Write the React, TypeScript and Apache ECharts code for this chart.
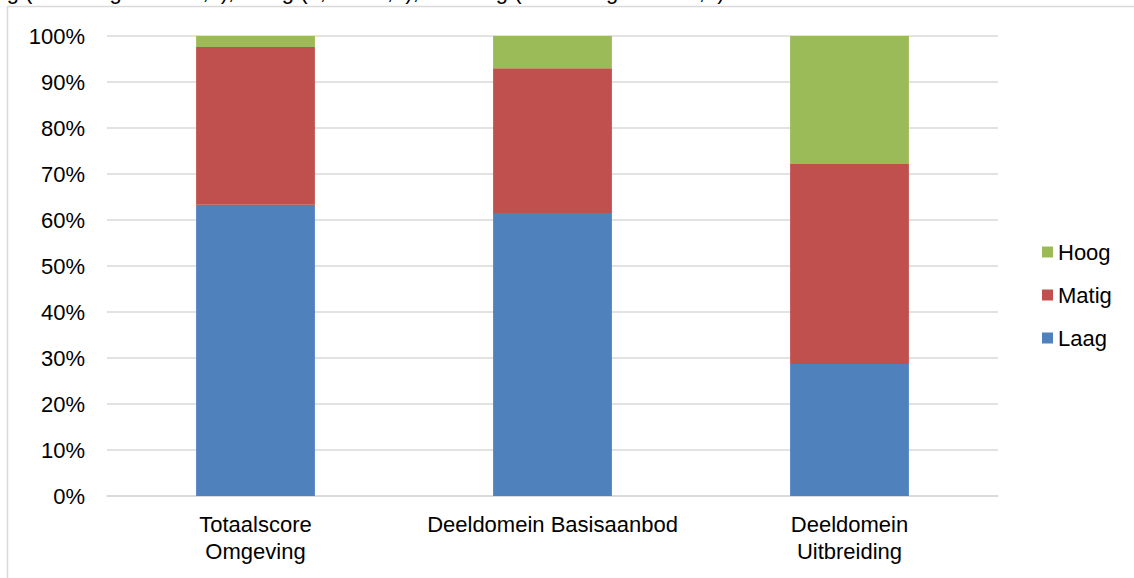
import React, { useEffect, useRef } from "react";
import * as echarts from "echarts";

const categories = ["Totaalscore\nOmgeving", "Deeldomein Basisaanbod", "Deeldomein\nUitbreiding"];
const laag = [63.3, 61.5, 28.7];
const matig = [34.3, 31.5, 43.5];
const hoog = [2.4, 7.0, 27.8];
const seriesNames = ["Laag", "Matig", "Hoog"];
const legendOrder = ["Hoog", "Matig", "Laag"];
const colors = ["#4F81BD", "#C0504D", "#9BBB59"];
const topText = "Laag (score lager dan 2,0), Matig (2,0 tot 3,0), en Hoog (score hoger dan 3,0)";

const FONT = "Liberation Sans, Arial, sans-serif";
const FS = 22;

export default function App() {
  const ref = useRef<HTMLDivElement>(null);
  useEffect(() => {
    document.body.style.margin = "0";
    const chart = echarts.init(ref.current!, null, { renderer: "svg" });
    const values = [laag, matig, hoog];
    chart.setOption({
      animation: false,
      backgroundColor: "#ffffff",
      textStyle: { fontFamily: FONT },
      grid: { left: 107, right: 136, top: 36, bottom: 82 },
      graphic: [
        {
          type: "rect",
          shape: { x: 7.5, y: 6.5, width: 1200, height: 700 },
          style: { fill: "none", stroke: "#d9d9d9", lineWidth: 1.5 },
          silent: true,
        },
        {
          type: "text",
          x: -30,
          y: -9,
          style: {
            text: topText,
            font: `${FS}px ${FONT}`,
            fill: "#000",
            verticalAlign: "middle",
          },
          silent: true,
        },
      ],
      legend: {
        orient: "vertical",
        left: 1037,
        top: 236,
        data: legendOrder,
        itemWidth: 11,
        itemHeight: 11,
        itemGap: 21,
        icon: "rect",
        textStyle: { fontSize: FS, color: "#000", fontFamily: FONT },
      },
      xAxis: {
        type: "category",
        data: categories,
        axisLine: { lineStyle: { color: "#d9d9d9", width: 1.5 } },
        axisTick: { show: false },
        axisLabel: {
          color: "#000",
          fontSize: FS,
          lineHeight: 27,
          margin: 15,
          fontFamily: FONT,
          interval: 0,
        },
      },
      yAxis: {
        type: "value",
        min: 0,
        max: 100,
        interval: 10,
        axisLine: { show: false },
        axisTick: { show: false },
        splitLine: { lineStyle: { color: "#d9d9d9", width: 1.5 } },
        axisLabel: {
          color: "#000",
          fontSize: FS,
          margin: 22,
          fontFamily: FONT,
          formatter: "{value}%",
        },
      },
      series: seriesNames.map((name, i) => ({
        name,
        type: "bar",
        stack: "total",
        barWidth: "40%",
        data: values[i],
        itemStyle: { color: colors[i] },
      })),
    });
    return () => chart.dispose();
  }, []);
  return <div ref={ref} style={{ position: "absolute", left: 0, top: 0, width: 1134, height: 578 }} />;
}
